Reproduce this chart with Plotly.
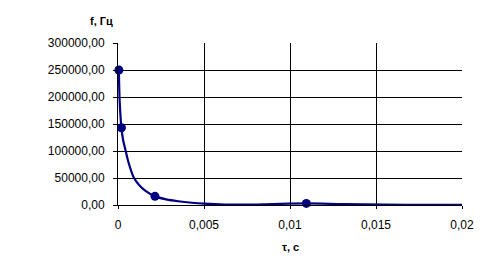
import plotly.graph_objects as go

# Measured points (markers)
tau_pts = [0.00005, 0.0002, 0.00215, 0.01095]
f_pts = [250000, 143000, 16000, 3000]

# Smoothed curve
tau_curve = [0.00005, 0.0001, 0.0002, 0.0003, 0.00045, 0.0006, 0.0009, 0.0012, 0.0016, 0.00215,
             0.0028, 0.0035, 0.0043, 0.005, 0.0062, 0.0075, 0.009, 0.01095, 0.013, 0.0155,
             0.018, 0.0203]
f_curve = [250000, 190000, 143000, 120000, 100000, 80000, 52000, 38000, 26000, 16000,
           10500, 7000, 4200, 2500, 800, 700, 1800, 3000, 1800, 600,
           200, 100]

y_ticks = [0, 50000, 100000, 150000, 200000, 250000, 300000]
y_labels = ["0,00", "50000,00", "100000,00", "150000,00", "200000,00", "250000,00", "300000,00"]
x_ticks = [0, 0.005, 0.01, 0.015, 0.02]
x_labels = ["0", "0,005", "0,01", "0,015", "0,02"]

navy = "#000080"
fig = go.Figure()
fig.add_trace(go.Scatter(x=tau_curve, y=f_curve, mode="lines",
                         line=dict(color=navy, width=2.2, shape="spline", smoothing=0.8),
                         hoverinfo="skip", showlegend=False, cliponaxis=False))
fig.add_trace(go.Scatter(x=tau_pts, y=f_pts, mode="markers",
                         marker=dict(color=navy, size=9), showlegend=False, cliponaxis=False))

fam = "Liberation Sans, Arial, sans-serif"
L, R, T, B = 118, 33, 43, 69
W, H = 495, 274
pw, ph = W - L - R, H - T - B

def px(x):
    return (x - L) / pw

def py(y):
    return 1 - (y - T) / ph

fig.update_layout(
    width=W, height=H,
    margin=dict(l=L, r=R, t=T, b=B),
    paper_bgcolor="white", plot_bgcolor="white",
    font=dict(family=fam, size=12, color="black"),
    xaxis=dict(range=[0, 0.02], tickvals=x_ticks, ticktext=x_labels,
               showgrid=True, gridcolor="black", gridwidth=1,
               showline=True, linecolor="black", linewidth=1,
               ticks="outside", ticklen=3, tickcolor="black", ticklabelstandoff=6,
               zeroline=False, fixedrange=True),
    yaxis=dict(range=[0, 300000], tickvals=y_ticks, ticktext=y_labels,
               showgrid=True, gridcolor="black", gridwidth=1,
               showline=True, linecolor="black", linewidth=1,
               ticks="outside", ticklen=4, tickcolor="black", ticklabelstandoff=6,
               zeroline=False, fixedrange=True),
    annotations=[
        dict(text="<b>f, Гц</b>", x=px(101), y=py(21), xref="paper", yref="paper",
             xanchor="center", yanchor="middle", showarrow=False,
             font=dict(family=fam, size=11, color="black")),
        dict(text="<b>τ, с</b>", x=px(290), y=py(247), xref="paper", yref="paper",
             xanchor="center", yanchor="middle", showarrow=False,
             font=dict(family=fam, size=11, color="black")),
    ],
)
fig.write_html("out.html")
